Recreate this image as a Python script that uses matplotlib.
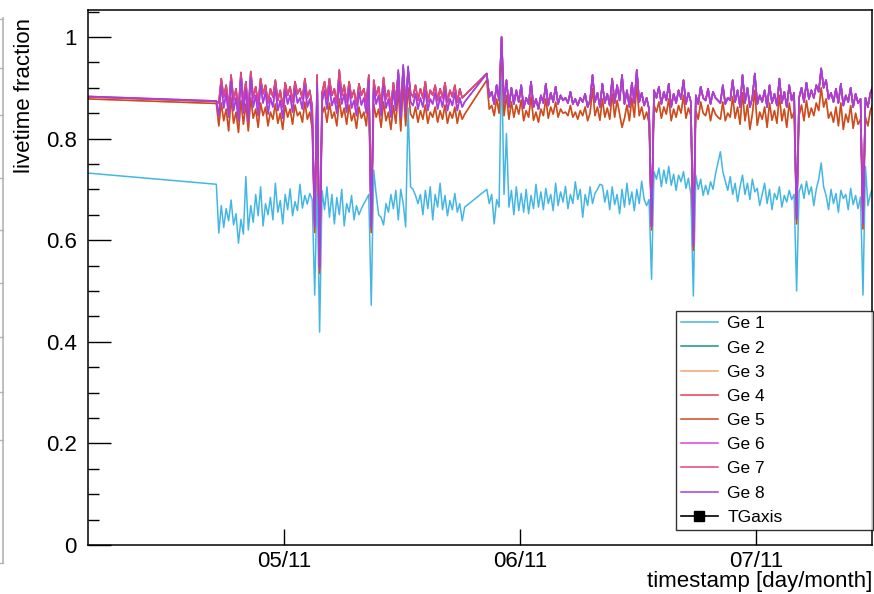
import numpy as np
import pandas as pd
import matplotlib
matplotlib.use("Agg")
import matplotlib.pyplot as plt
import matplotlib.dates as mdates
from matplotlib.lines import Line2D
from matplotlib.ticker import MultipleLocator, FuncFormatter

plt.rcParams["font.family"] = ["Liberation Sans", "DejaVu Sans"]

# run timestamps: two early runs, then two blocks of 15-minute runs
pre_times = ["2023-11-04 04:05", "2023-11-04 17:08"]
block_a_start = "2023-11-04 17:23"
block_b_start = "2023-11-05 20:38"
run_step = "15min"
x_range = ["2023-11-04 04:05", "2023-11-07 11:48"]
day_ticks = ["2023-11-05", "2023-11-06", "2023-11-07"]

# livetime fraction per run, in per mille
ge1_pre = [732, 710]
ge1_a = [614, 668, 625, 662, 638, 679, 630, 652, 594, 641,
         612, 725, 620, 668, 635, 690, 648, 705, 628, 672,
         650, 684, 640, 712, 655, 678, 632, 690, 660, 701,
         648, 676, 658, 710, 663, 688, 671, 692, 680, 492,
         715, 419, 698, 660, 705, 645, 690, 632, 684, 650,
         700, 628, 672, 655, 688, 640, 668, 650, 662, 672,
         680, 690, 472, 738, 690, 650, 645, 630, 672, 655,
         690, 662, 698, 640, 700, 672, 626, 860, 705, 700,
         688, 672, 690, 650, 698, 662, 705, 640, 690, 665,
         712, 660, 688, 648, 678, 660, 692, 655, 672, 638,
         665]
ge1_b = [700, 672, 690, 632, 680, 665, 960, 690, 810, 665,
         698, 650, 705, 658, 692, 655, 700, 652, 688, 662,
         710, 665, 695, 660, 702, 672, 690, 658, 712, 668,
         695, 675, 706, 662, 690, 672, 715, 680, 700, 645,
         690, 668, 705, 672, 692, 700, 710, 708, 675, 698,
         660, 705, 670, 690, 652, 700, 665, 712, 670, 695,
         658, 700, 672, 716, 680, 668, 680, 523, 735, 720,
         742, 705, 738, 712, 745, 708, 730, 698, 728, 715,
         735, 702, 722, 690, 490, 728, 700, 720, 688, 708,
         690, 715, 700, 730, 752, 774, 735, 716, 698, 725,
         690, 712, 676, 705, 728, 690, 712, 680, 720, 695,
         702, 668, 690, 712, 672, 700, 660, 692, 680, 705,
         665, 688, 675, 698, 680, 690, 500, 695, 710, 682,
         716, 690, 705, 668, 700, 720, 752, 705, 688, 660,
         700, 672, 692, 655, 698, 682, 690, 660, 702, 670,
         688, 662, 685, 492, 745, 668, 690, 705]

ge4_pre = [882, 873]
ge4_a = [870, 918, 882, 905, 862, 925, 875, 898, 858, 930,
         872, 912, 855, 932, 880, 902, 868, 918, 888, 905,
         870, 898, 882, 915, 875, 895, 862, 910, 885, 902,
         872, 912, 888, 898, 878, 918, 880, 895, 862, 630,
         925, 548, 890, 912, 878, 918, 885, 898, 870, 935,
         885, 905, 872, 912, 880, 895, 865, 908, 885, 898,
         870, 925, 628, 915, 885, 902, 865, 920, 878, 895,
         862, 910, 875, 930, 858, 940, 868, 935, 890, 882,
         905, 875, 898, 880, 912, 872, 895, 885, 905, 875,
         898, 880, 910, 872, 895, 882, 905, 872, 898, 880,
         885]

ge5_pre = [878, 869]
ge5_a = [825, 870, 835, 858, 815, 880, 830, 852, 812, 875,
         828, 868, 815, 880, 840, 858, 822, 870, 845, 862,
         825, 852, 838, 868, 830, 850, 818, 865, 842, 858,
         828, 866, 845, 852, 832, 872, 838, 852, 818, 615,
         880, 535, 848, 862, 832, 870, 840, 852, 825, 878,
         842, 860, 828, 866, 835, 850, 820, 862, 840, 852,
         825, 882, 615, 868, 842, 858, 822, 872, 835, 852,
         818, 865, 830, 895, 815, 905, 825, 900, 848, 840,
         862, 832, 855, 838, 866, 830, 852, 842, 862, 832,
         855, 838, 866, 830, 852, 840, 862, 830, 855, 838,
         848]
ge5_b = [915, 858, 865, 845, 878, 850, 975, 845, 885, 838,
         872, 842, 866, 848, 876, 835, 855, 842, 882, 836,
         852, 832, 858, 845, 878, 840, 862, 848, 872, 842,
         858, 850, 852, 845, 865, 842, 852, 838, 855, 845,
         862, 835, 850, 898, 845, 862, 836, 878, 842, 860,
         838, 888, 842, 875, 848, 822, 840, 866, 835, 880,
         842, 905, 845, 862, 838, 852, 830, 620, 866, 852,
         872, 840, 862, 848, 878, 835, 858, 842, 865, 850,
         885, 840, 860, 845, 580, 855, 838, 872, 850, 845,
         866, 835, 860, 848, 842, 838, 872, 835, 850, 842,
         882, 840, 862, 828, 890, 835, 866, 818, 848, 895,
         826, 852, 838, 862, 822, 870, 836, 855, 830, 885,
         835, 858, 822, 870, 840, 852, 632, 845, 866, 835,
         875, 842, 860, 845, 870, 855, 900, 862, 878, 840,
         852, 832, 862, 825, 870, 818, 848, 832, 865, 820,
         850, 828, 838, 622, 842, 825, 855, 868]

ge8_pre = [883, 874]
ge8_a = [845, 905, 860, 890, 842, 912, 855, 880, 835, 918,
         850, 898, 832, 920, 862, 885, 845, 905, 870, 892,
         848, 880, 862, 900, 855, 875, 840, 895, 868, 885,
         852, 898, 870, 880, 858, 905, 862, 878, 840, 626,
         910, 545, 872, 895, 858, 902, 865, 880, 850, 912,
         868, 888, 852, 898, 860, 875, 845, 892, 866, 880,
         850, 915, 624, 900, 868, 885, 845, 905, 860, 878,
         842, 895, 855, 935, 840, 945, 850, 942, 872, 865,
         888, 858, 880, 862, 895, 855, 878, 868, 890, 858,
         882, 862, 895, 855, 878, 865, 890, 855, 880, 862,
         872]
ge8_b = [928, 882, 892, 868, 905, 875, 1000, 870, 915, 862,
         900, 868, 895, 872, 905, 860, 880, 868, 912, 862,
         878, 858, 885, 870, 908, 865, 890, 872, 902, 868,
         885, 875, 880, 870, 892, 868, 878, 865, 880, 872,
         888, 862, 875, 925, 872, 890, 862, 908, 870, 888,
         865, 918, 870, 905, 875, 925, 868, 895, 862, 910,
         870, 935, 872, 890, 865, 880, 858, 627, 895, 880,
         902, 868, 892, 875, 908, 862, 888, 870, 895, 878,
         915, 868, 890, 872, 588, 885, 868, 902, 880, 875,
         898, 868, 892, 880, 875, 870, 905, 868, 880, 875,
         915, 872, 895, 862, 925, 870, 900, 862, 880, 928,
         868, 885, 872, 895, 862, 905, 870, 888, 865, 918,
         870, 892, 862, 905, 875, 890, 641, 880, 900, 872,
         910, 878, 895, 880, 905, 892, 938, 900, 915, 878,
         890, 872, 898, 870, 908, 865, 885, 872, 900, 862,
         888, 870, 878, 632, 880, 862, 890, 902]

labels = ["Ge 1", "Ge 2", "Ge 3", "Ge 4", "Ge 5", "Ge 6", "Ge 7", "Ge 8"]
colors = ["#45b6e4", "#1b9282", "#f2a46e", "#e63c55",
          "#cc4a1e", "#dc44dc", "#e6447c", "#a43ee0"]


def build(pre, a, b):
    t = (list(pd.to_datetime(pre_times))
         + list(pd.date_range(block_a_start, periods=len(a), freq=run_step))
         + list(pd.date_range(block_b_start, periods=len(b), freq=run_step)))
    v = np.array(pre + a + b) / 1000.0
    return t, v


# Ge 2, Ge 3, Ge 6 and Ge 7 run on top of Ge 4, Ge 5 and Ge 8 at this scale
channel_data = [
    (ge1_pre, ge1_a, ge1_b),
    (ge4_pre, ge4_a, ge8_b),
    (ge5_pre, ge5_a, ge5_b),
    (ge4_pre, ge4_a, ge8_b),
    (ge5_pre, ge5_a, ge5_b),
    (ge8_pre, ge8_a, ge8_b),
    (ge4_pre, ge4_a, ge8_b),
    (ge8_pre, ge8_a, ge8_b),
]

fig = plt.figure(figsize=(8.74, 5.94), dpi=100)
ax = fig.add_axes([88 / 874, 49 / 594, 784 / 874, 535 / 594])

handles = []
for (pre, a, b), lab, col in zip(channel_data, labels, colors):
    t, v = build(pre, a, b)
    line, = ax.plot(t, v, color=col, lw=1.1, label=lab)
    handles.append(line)

handles.append(Line2D([], [], color="black", lw=1.2, marker="s", markersize=7))
leg_labels = labels + ["TGaxis"]

ax.set_xlim(pd.to_datetime(x_range[0]), pd.to_datetime(x_range[1]))
ax.set_ylim(0, 1.053)

ax.set_xticks(pd.to_datetime(day_ticks))
ax.xaxis.set_major_formatter(mdates.DateFormatter("%d/%m"))
ax.yaxis.set_major_locator(MultipleLocator(0.2))
ax.yaxis.set_minor_locator(MultipleLocator(0.05))
ax.yaxis.set_major_formatter(FuncFormatter(lambda y, _: f"{y:g}"))

ax.tick_params(axis="y", which="major", direction="in", length=16.5, width=1,
               labelsize=16, pad=8)
ax.tick_params(axis="y", which="minor", direction="in", length=8, width=1)
ax.tick_params(axis="x", which="major", direction="in", length=11.5, width=1,
               labelsize=16, pad=4)
ax.tick_params(axis="x", which="minor", bottom=False)
for sp in ax.spines.values():
    sp.set_linewidth(1.1)

ax.set_xlabel("timestamp [day/month]", fontsize=16, loc="right")
ax.xaxis.set_label_coords(1.0, -0.048)
ax.set_ylabel("livetime fraction", fontsize=16, loc="top")
ax.yaxis.set_label_coords(-0.067, 0.985)

leg = ax.legend(handles, leg_labels, loc="lower left",
                bbox_to_anchor=(0.75, 0.028, 0.251, 0.411), mode="expand",
                borderaxespad=0, fontsize=12.5, frameon=True, fancybox=False,
                edgecolor="black", handlelength=2.1, handletextpad=0.55,
                labelspacing=0.52, borderpad=0.3)
leg.get_frame().set_linewidth(1.0)

# grey axis fragment along the left edge
edge_x = 3 / 874
fig.add_artist(Line2D([edge_x, edge_x], [1 - 18 / 594, 1 - 563 / 594],
                      color="#b4b4b4", lw=1.2))
for py in [19, 68, 115, 178, 230, 283, 337, 392, 440, 563]:
    fig.add_artist(Line2D([0, edge_x], [1 - py / 594, 1 - py / 594],
                          color="#b4b4b4", lw=1.0))

fig.savefig("out.png", dpi=100)
